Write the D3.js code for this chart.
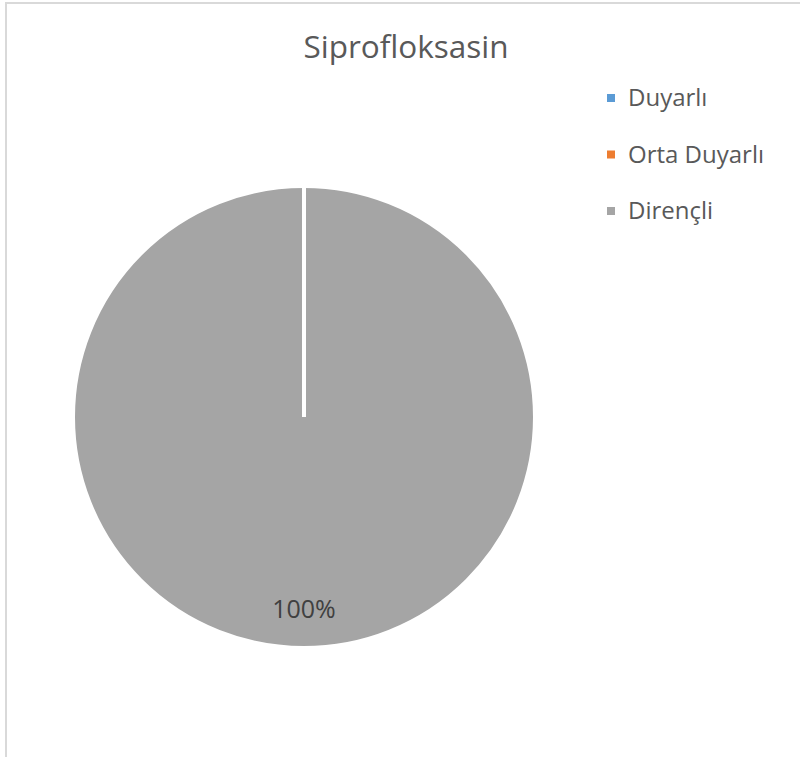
<!DOCTYPE html>
<html>
<head>
<meta charset="utf-8">
<script src="https://cdn.jsdelivr.net/npm/d3@7"></script>
<style>
  html, body { margin: 0; padding: 0; background: #fff; }
  svg { display: block; }
  text { font-family: "Open Sans", "Noto Sans", sans-serif; fill: #595959; }
</style>
</head>
<body>
<svg id="chart" width="800" height="757"></svg>
<script>
// Susceptibility categories and their share of isolates (%)
const categories = ["Duyarlı", "Orta Duyarlı", "Dirençli"];
const values = [0, 0, 100];
const colors = ["#5b9bd5", "#ed7d31", "#a5a5a5"];
const title = "Siprofloksasin";

const svg = d3.select("#chart");
const W = 800, H = 757;

// chart frame (extends past the right and bottom edges)
svg.append("rect")
  .attr("x", 6).attr("y", 3)
  .attr("width", W + 20).attr("height", H + 20)
  .attr("fill", "none")
  .attr("stroke", "#d9d9d9")
  .attr("stroke-width", 2);

// title
svg.append("text")
  .attr("x", 406).attr("y", 58)
  .attr("text-anchor", "middle")
  .style("font-size", "31.5px")
  .text(title);

// pie
const cx = 304, cy = 417, r = 231;
const data = categories.map((c, i) => ({ name: c, value: values[i], color: colors[i] }));
const pie = d3.pie().sort(null).value(d => d.value);
const arcs = pie(data);
const arc = d3.arc().innerRadius(0).outerRadius(r);

const g = svg.append("g").attr("transform", `translate(${cx},${cy})`);
// slice fills
g.selectAll("path.slice")
  .data(arcs)
  .join("path")
  .attr("class", "slice")
  .attr("d", arc)
  .attr("fill", d => d.data.color);
// slice borders drawn on top, so empty slices still show their edge
g.selectAll("path.edge")
  .data(arcs)
  .join("path")
  .attr("class", "edge")
  .attr("d", arc)
  .attr("fill", "none")
  .attr("stroke", "#fff")
  .attr("stroke-width", 4)
  .attr("stroke-linejoin", "miter");

// percentage labels for non-empty slices
const total = d3.sum(values);
const labelArc = d3.arc().innerRadius(192).outerRadius(192);
g.selectAll("text.pct")
  .data(arcs.filter(d => d.data.value > 0))
  .join("text")
  .attr("class", "pct")
  .attr("transform", d => `translate(${labelArc.centroid(d)})`)
  .attr("text-anchor", "middle")
  .attr("dy", "0.35em")
  .style("font-size", "25px")
  .style("fill", "#404040")
  .text(d => d3.format(".0%")(d.data.value / total));

// legend
const legendY = d3.scalePoint().domain(categories).range([98, 211]);
const lg = svg.append("g");
const item = lg.selectAll("g.item")
  .data(data)
  .join("g")
  .attr("class", "item")
  .attr("transform", d => `translate(607,${legendY(d.name)})`);
item.append("rect")
  .attr("x", 0).attr("y", -4)
  .attr("width", 8).attr("height", 8)
  .attr("fill", d => d.color);
item.append("text")
  .attr("x", 21).attr("dy", "0.35em")
  .style("font-size", "24px")
  .text(d => d.name);
</script>
</body>
</html>
